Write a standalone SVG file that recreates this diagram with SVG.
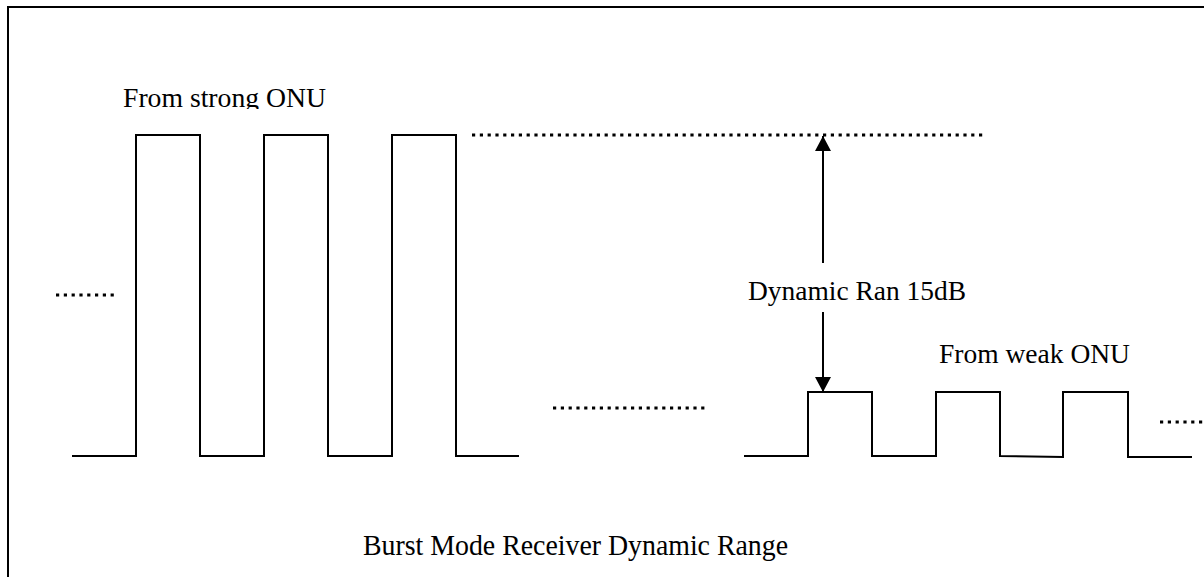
<svg xmlns="http://www.w3.org/2000/svg" width="1204" height="577" viewBox="0 0 1204 577">
  <style>
    .trace { fill: none; stroke: #000; stroke-width: 2; stroke-linejoin: miter; }
    .dots { fill: none; stroke: #000; stroke-width: 3.2; stroke-dasharray: 3.2 4.6; }
    .frame { fill: none; stroke: #000; stroke-width: 2; }
    .arrow { fill: none; stroke: #000; stroke-width: 2; marker-end: url(#head); }
  </style>
  <defs>
    <marker id="head" markerWidth="16" markerHeight="16" viewBox="0 0 16 16" refX="15" refY="8" orient="auto" markerUnits="userSpaceOnUse">
      <path d="M0,0 L15,8 L0,16 Z" fill="#000"/>
    </marker>
    <clipPath id="topClip">
      <rect x="0" y="0" width="1204" height="109"/>
    </clipPath>
  </defs>

  <rect width="1204" height="577" fill="#fff"/>

  <!-- outer frame (top and left edges) -->
  <path class="frame" d="M8,577 L8,7 L1204,7"/>

  <!-- bursts from the strong ONU -->
  <g id="strong-bursts">
    <path class="trace" d="M72,456 L136,456 L136,135 L200,135 L200,456 L264,456 L264,135 L328,135 L328,456 L392,456 L392,135 L456,135 L456,456 L519,456"/>
  </g>

  <!-- bursts from the weak ONU -->
  <g id="weak-bursts">
    <path class="trace" d="M744,456 L808,456 L808,392 L872,392 L872,456 L936,456 L936,392 L1000,392 L1000,456 L1063,457 L1063,392 L1128,392 L1128,457 L1192,457"/>
  </g>

  <!-- continuation dots and strong-level reference -->
  <g id="dotted-lines">
    <line class="dots" x1="56" y1="295" x2="118" y2="295"/>
    <line class="dots" x1="472" y1="135" x2="984" y2="135"/>
    <line class="dots" x1="553" y1="408" x2="708" y2="408"/>
    <line class="dots" x1="1160" y1="422" x2="1204" y2="422"/>
  </g>

  <!-- dynamic range arrows -->
  <g id="connectors">
    <line class="arrow" x1="823" y1="263" x2="823" y2="136"/>
    <line class="arrow" x1="823" y1="312" x2="823" y2="392"/>
  </g>

  <!-- labels -->
  <g id="labels" font-family="Liberation Serif, Times New Roman, DejaVu Serif, serif" font-size="27.5" fill="#000">
    <g id="label-strong">
      <text x="123" y="107" textLength="203" lengthAdjust="spacingAndGlyphs" clip-path="url(#topClip)">From strong ONU</text>
    </g>
    <g id="label-range">
      <text x="748" y="300" textLength="218" lengthAdjust="spacingAndGlyphs">Dynamic Ran 15dB</text>
    </g>
    <g id="label-weak">
      <text x="939" y="363" textLength="191" lengthAdjust="spacingAndGlyphs">From weak ONU</text>
    </g>
    <g id="label-title">
      <text x="363" y="555" font-size="30" textLength="425" lengthAdjust="spacingAndGlyphs">Burst Mode Receiver Dynamic Range</text>
    </g>
  </g>
</svg>
